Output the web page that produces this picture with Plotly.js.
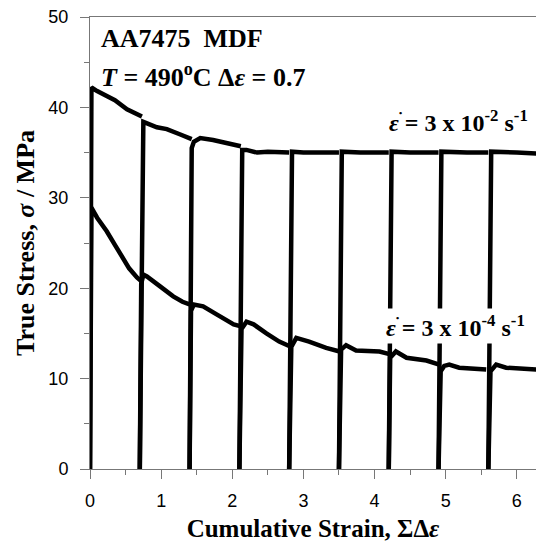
<!DOCTYPE html>
<html>
<head>
<meta charset="utf-8">
<script src="https://cdn.plot.ly/plotly-3.0.1.min.js"></script>
<style>html,body{margin:0;padding:0;background:#fff;}#chart{width:536px;height:542px;}</style>
</head>
<body>
<div id="chart"></div>
<script>
// Strain rate 3 x 10^-2 s^-1 (null separates successive passes)
var fastStrain = [0, 0.02, 0.10, 0.235, 0.35, 0.52, 0.73, null,
  0.70, 0.75, 0.94, 1.08, 1.27, 1.43, null,
  1.40, 1.43, 1.46, 1.55, 1.73, 1.92, 2.12, null,
  2.10, 2.14, 2.20, 2.35, 2.50, 2.80, null,
  2.80, 2.84, 3.00, 3.20, 3.50, null,
  3.50, 3.54, 3.80, 4.20, null,
  4.20, 4.24, 4.50, 4.90, null,
  4.90, 4.94, 5.30, 5.60, null,
  5.60, 5.64, 6.00, 6.30];
var fastStress = [0, 42.2, 41.8, 41.3, 40.8, 39.8, 39.0, null,
  0, 38.4, 37.8, 37.6, 37.0, 36.5, null,
  0, 35.5, 36.2, 36.6, 36.4, 36.0, 35.7, null,
  0, 35.3, 35.3, 35.0, 35.1, 35.0, null,
  0, 35.1, 35.0, 35.0, 35.0, null,
  0, 35.1, 35.0, 35.0, null,
  0, 35.1, 35.0, 35.0, null,
  0, 35.1, 35.0, 35.0, null,
  0, 35.1, 35.0, 34.9];
// Strain rate 3 x 10^-4 s^-1
var slowStrain = [0, 0.02, 0.10, 0.235, 0.35, 0.47, 0.55, 0.66, 0.72, null,
  0.70, 0.72, 0.75, 0.80, 0.985, 1.17, 1.30, 1.40, null,
  1.40, 1.42, 1.46, 1.59, 1.78, 2.02, 2.11, null,
  2.10, 2.13, 2.20, 2.30, 2.48, 2.66, 2.80, null,
  2.80, 2.83, 2.90, 3.08, 3.32, 3.51, null,
  3.50, 3.53, 3.60, 3.74, 4.07, 4.21, null,
  4.20, 4.22, 4.30, 4.45, 4.73, 4.91, null,
  4.90, 4.93, 4.98, 5.05, 5.19, 5.57, null,
  5.60, 5.63, 5.71, 5.85, 6.30];
var slowStress = [0, 28.9, 27.8, 26.3, 24.8, 23.2, 22.2, 21.2, 20.8, null,
  0, 20.5, 21.5, 21.3, 20.2, 19.1, 18.5, 18.2, null,
  0, 17.5, 18.2, 18.0, 17.1, 16.0, 15.8, null,
  0, 15.5, 16.3, 16.0, 15.0, 14.1, 13.6, null,
  0, 13.5, 14.5, 14.1, 13.4, 13.0, null,
  0, 13.2, 13.7, 13.1, 13.0, 12.7, null,
  0, 12.3, 13.0, 12.3, 12.0, 11.55, null,
  0, 10.8, 11.4, 11.55, 11.2, 11.0, null,
  0, 10.8, 11.55, 11.2, 11.0];

var xTitle = '<b>Cumulative Strain, ΣΔ<i>ε</i></b>';
var yTitle = '<b>True Stress, <i>σ</i> / MPa</b>';
var labelMaterial = '<b>AA7475  MDF</b>';
var labelCond = '<b><i>T</i> = 490<sup>o</sup>C Δ<i>ε</i> = 0.7</b>';
var labelFast = '<b><i>ε</i> = 3 x 10<sup>-2</sup> s<sup>-1</sup></b>';
var labelSlow = '<b><i>ε</i> = 3 x 10<sup>-4</sup> s<sup>-1</sup></b>';
var rateDot = '<b>•</b>';

var serif = 'Liberation Serif, Times New Roman, serif';
var sans = 'Liberation Sans, Arial, sans-serif';

var traces = [
  {x: fastStrain, y: fastStress, mode: 'lines', connectgaps: false,
   line: {color: '#000', width: 4.5}, hoverinfo: 'skip'},
  {x: slowStrain, y: slowStress, mode: 'lines', connectgaps: false,
   line: {color: '#000', width: 4.5}, hoverinfo: 'skip'}
];

var axisCommon = {
  showgrid: false, zeroline: false, showline: true, linecolor: '#777', linewidth: 1,
  ticks: 'outside', ticklen: 9, tickcolor: '#777', tickwidth: 1,
  tickfont: {family: sans, size: 18, color: '#000'}
};

var layout = {
  width: 536, height: 542,
  margin: {l: 90, r: 0, t: 17, b: 73},
  paper_bgcolor: '#fff', plot_bgcolor: '#fff',
  showlegend: false,
  xaxis: Object.assign({}, axisCommon, {
    range: [0, 6.27], tick0: 0, dtick: 1, mirror: true, ticklabelstandoff: 6,
    minor: {dtick: 0.5, ticks: 'outside', ticklen: 5, tickcolor: '#777', showgrid: false},
    title: {text: xTitle, font: {family: serif, size: 25, color: '#000'}, standoff: 19}
  }),
  yaxis: Object.assign({}, axisCommon, {
    range: [0, 50], tick0: 0, dtick: 10, ticklabelstandoff: 8,
    minor: {dtick: 5, ticks: 'outside', ticklen: 5, tickcolor: '#777', showgrid: false},
    title: {text: yTitle, font: {family: serif, size: 26, color: '#000'}, standoff: 6}
  }),
  annotations: [
    {xref: 'paper', yref: 'paper', x: 0.02, y: 0.988, xanchor: 'left', yanchor: 'top',
     text: labelMaterial, showarrow: false, font: {family: serif, size: 26, color: '#000'}},
    {xref: 'paper', yref: 'paper', x: 0.02, y: 0.912, xanchor: 'left', yanchor: 'top',
     text: labelCond, showarrow: false, font: {family: serif, size: 26, color: '#000'}},
    {xref: 'paper', yref: 'y', x: 0.664, y: 38.5, xanchor: 'left', yanchor: 'middle',
     text: labelFast, showarrow: false, bgcolor: '#fff', borderpad: 2,
     font: {family: serif, size: 24, color: '#000'}},
    {xref: 'paper', yref: 'y', x: 0.658, y: 15.8, xanchor: 'left', yanchor: 'middle',
     text: labelSlow, showarrow: false, bgcolor: '#fff', borderpad: 2,
     font: {family: serif, size: 24, color: '#000'}},
    {xref: 'paper', yref: 'y', x: 0.696, y: 39.4, xanchor: 'center', yanchor: 'middle',
     text: rateDot, showarrow: false, font: {family: serif, size: 9, color: '#000'}},
    {xref: 'paper', yref: 'y', x: 0.690, y: 16.7, xanchor: 'center', yanchor: 'middle',
     text: rateDot, showarrow: false, font: {family: serif, size: 9, color: '#000'}}
  ]
};

Plotly.newPlot('chart', traces, layout, {displayModeBar: false, staticPlot: true});
</script>
</body>
</html>
